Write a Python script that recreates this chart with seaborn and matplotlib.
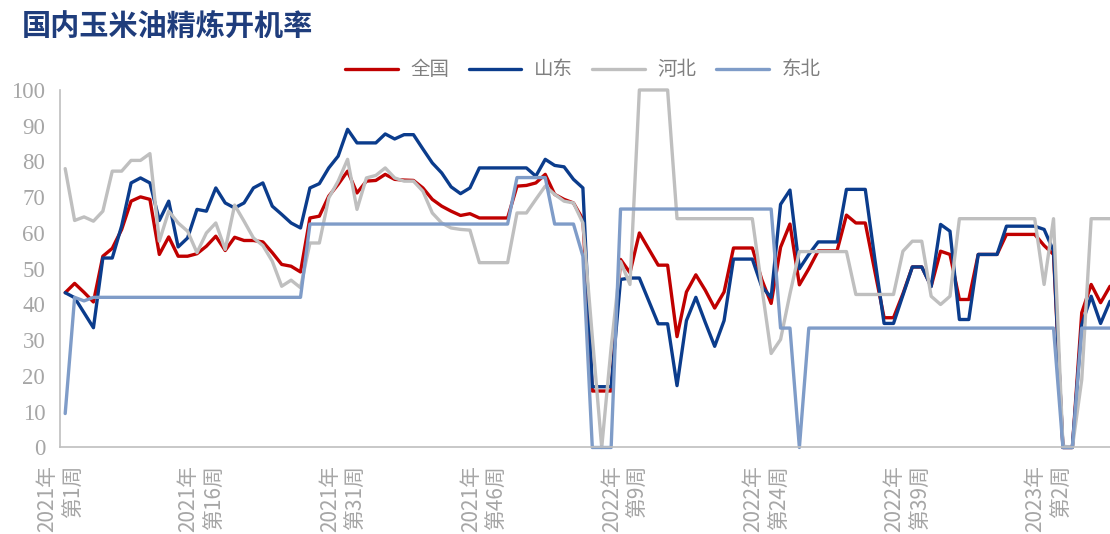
import numpy as np
import pandas as pd
import matplotlib
matplotlib.use("Agg")
import matplotlib.pyplot as plt
import seaborn as sns

# weekly refinery operating rate (%), 2021 week 1 onwards
regions = ["全国", "山东", "河北", "东北"]

quanguo = [
    43.3, 45.9, 43.4, 40.7, 53.5, 55.7, 61, 68.9, 70.1, 69.4,
    54, 58.9, 53.5, 53.5, 54.2, 56.3, 59.1, 55.1, 58.8, 57.9,
    57.9, 57.5, 54.5, 51.2, 50.7, 49.1, 64.2, 64.7, 70.3, 73.6,
    77.3, 71.2, 74.5, 74.7, 76.4, 75, 74.8, 74.7, 72.6, 69.4,
    67.5, 66.1, 64.9, 65.4, 64.2, 64.2, 64.2, 64.2, 73.1, 73.3,
    74, 76.4, 70.8, 69.4, 68.4, 63.8, 15.8, 15.8, 15.8, 52.6,
    48.9, 60, 55.5, 51, 51, 31, 43.5, 48.3, 44, 39,
    43.5, 55.8, 55.8, 55.8, 47, 40.3, 56, 62.5, 45.5, 50,
    55, 55, 55, 65, 62.8, 62.8, 49.5, 36.3, 36.3, 43,
    50.5, 50.5, 45.1, 54.9, 54, 41.4, 41.4, 54, 54, 54,
    59.6, 59.6, 59.6, 59.6, 56.5, 54, 0, 0, 37.7, 45.6,
    40.5, 45.1,
]

shandong = [
    43.3, 41.9, 37.7, 33.5, 53, 53, 62, 74, 75.4, 74,
    63.5, 68.9, 56.1, 58.6, 66.6, 66.1, 72.6, 68.4, 67, 68.4,
    72.6, 74, 67.5, 65.2, 62.8, 61.4, 72.6, 73.8, 78.2, 81.5,
    89, 85.2, 85.2, 85.2, 87.7, 86.3, 87.5, 87.5, 83.5, 79.6,
    76.8, 72.9, 71, 72.6, 78.2, 78.2, 78.2, 78.2, 78.2, 78.2,
    75.9, 80.6, 78.9, 78.5, 75, 72.6, 17, 17, 17, 47,
    47.4, 47.4, 41, 34.6, 34.6, 17.3, 35.5, 42, 35, 28.3,
    35.5, 52.7, 52.7, 52.7, 45, 42, 68, 72, 50, 54,
    57.5, 57.5, 57.5, 72.2, 72.2, 72.2, 53, 34.7, 34.7, 42.6,
    50.5, 50.5, 45, 62.4, 60.5, 35.8, 35.8, 54, 54, 54,
    61.9, 61.9, 61.9, 61.9, 61, 55, 0, 0, 34.4, 42.3,
    34.7, 40.9,
]

hebei = [
    78, 63.5, 64.5, 63.3, 66.1, 77.3, 77.3, 80.3, 80.3, 82.2,
    57.7, 66.1, 62.8, 60.5, 54.5, 60, 62.8, 55.4, 67.8, 63.3,
    58.6, 56.5, 52.1, 45.1, 46.8, 44.7, 57.2, 57.2, 69.8, 74.5,
    80.6, 66.6, 75.4, 76.1, 78.2, 75.4, 74.5, 74.5, 71.7, 65.6,
    62.8, 61.4, 61, 60.8, 51.7, 51.7, 51.7, 51.7, 65.6, 65.6,
    69.4, 73.1, 70.8, 68.9, 68.4, 62.8, 31, 0, 28, 52,
    45.6, 100, 100, 100, 100, 64, 64, 64, 64, 64,
    64, 64, 64, 64, 45, 26.3, 30.2, 43, 54.8, 54.8,
    54.8, 54.8, 54.8, 54.8, 42.8, 42.8, 42.8, 42.8, 42.8, 54.9,
    57.7, 57.7, 42.3, 40, 42.3, 64, 64, 64, 64, 64,
    64, 64, 64, 64, 45.6, 64, 0.4, 0, 19, 64,
    64, 64,
]

dongbei = [
    9.5, 42, 41, 42, 42, 42, 42, 42, 42, 42,
    42, 42, 42, 42, 42, 42, 42, 42, 42, 42,
    42, 42, 42, 42, 42, 42, 62.5, 62.5, 62.5, 62.5,
    62.5, 62.5, 62.5, 62.5, 62.5, 62.5, 62.5, 62.5, 62.5, 62.5,
    62.5, 62.5, 62.5, 62.5, 62.5, 62.5, 62.5, 62.5, 75.5, 75.5,
    75.5, 75.5, 62.5, 62.5, 62.5, 53.5, 0, 0, 0, 66.7,
    66.7, 66.7, 66.7, 66.7, 66.7, 66.7, 66.7, 66.7, 66.7, 66.7,
    66.7, 66.7, 66.7, 66.7, 66.7, 66.7, 33.4, 33.4, 0, 33.4,
    33.4, 33.4, 33.4, 33.4, 33.4, 33.4, 33.4, 33.4, 33.4, 33.4,
    33.4, 33.4, 33.4, 33.4, 33.4, 33.4, 33.4, 33.4, 33.4, 33.4,
    33.4, 33.4, 33.4, 33.4, 33.4, 33.4, 0, 0, 33.4, 33.4,
    33.4, 33.4,
]

tick_labels = [
    "2021年\n第1周", "2021年\n第16周", "2021年\n第31周", "2021年\n第46周",
    "2022年\n第9周", "2022年\n第24周", "2022年\n第39周", "2023年\n第2周",
]
tick_step = 15
y_ticks = [0, 10, 20, 30, 40, 50, 60, 70, 80, 90, 100]

colors = {"全国": "#C00000", "山东": "#0B3C8C", "河北": "#BFBFBF", "东北": "#7F9CC8"}
axis_grey = "#BFBFBF"
text_grey = "#A6A6A6"


def plot_rates():
    df = pd.DataFrame({"全国": quanguo, "山东": shandong, "河北": hebei, "东北": dongbei})
    df["week"] = np.arange(len(df))
    long_df = df.melt(id_vars="week", var_name="region", value_name="rate")

    sns.set_style("white")
    plt.rcParams["font.family"] = ["Noto Sans CJK SC", "DejaVu Sans"]

    fig = plt.figure(figsize=(11.1, 5.34), dpi=100)
    ax = fig.add_axes([0.0545, 0.162, 0.9455, 0.6695])

    sns.lineplot(data=long_df, x="week", y="rate", hue="region", hue_order=regions,
                 palette=colors, linewidth=2.4, ax=ax, clip_on=False)

    handles, labels = ax.get_legend_handles_labels()
    ax.get_legend().remove()

    ax.set_xlim(-0.5, 111.0)
    ax.set_ylim(0, 100)
    ax.set_xlabel("")
    ax.set_ylabel("")

    # category ticks sit between weeks, one label every 15 weeks
    ax.set_xticks(np.arange(len(tick_labels)) * tick_step - 0.5)
    ax.set_xticklabels(tick_labels, rotation=90, ma="right", linespacing=1.25)
    ax.set_yticks(y_ticks)
    ax.set_yticklabels([str(v) for v in y_ticks], fontfamily="Liberation Serif")

    ax.tick_params(axis="x", length=6.5, width=1, color=axis_grey, pad=6,
                   labelsize=15, labelcolor=text_grey)
    ax.tick_params(axis="y", length=7, width=1, color=axis_grey, pad=4,
                   labelsize=16.5, labelcolor=text_grey)

    sns.despine(ax=ax)
    for side in ["left", "bottom"]:
        ax.spines[side].set_color(axis_grey)
        ax.spines[side].set_linewidth(1.2)

    fig.text(0.02, 0.949, "国内玉米油精炼开机率", fontsize=21, color="#1F3D7C",
             ha="left", va="center", fontweight="bold")

    fig.legend(handles, labels, loc="center", bbox_to_anchor=(0.525, 0.869), ncol=4,
               frameon=False, fontsize=14, handlelength=2.7, handletextpad=0.65,
               columnspacing=1.0, labelcolor="#808080")

    fig.savefig("out.png", dpi=100)


if __name__ == "__main__":
    plot_rates()
